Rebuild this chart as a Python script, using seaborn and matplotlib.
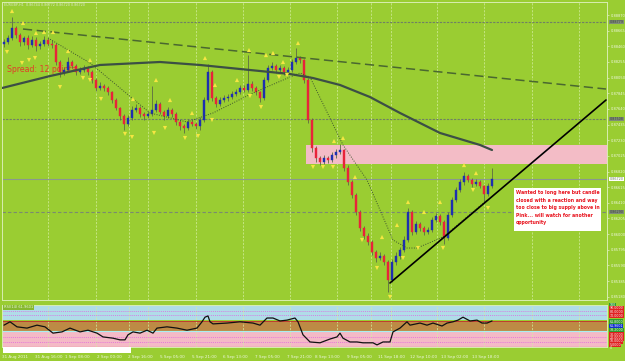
import matplotlib
matplotlib.use('Agg')
import matplotlib.pyplot as plt
from matplotlib.patches import Rectangle
import numpy as np
import pandas as pd
import seaborn as sns

sns.set_theme(style='white')
plt.rcParams['font.family'] = ['DejaVu Sans']

# ---------------- data (EURGBP H1) ----------------
first_open = 0.88491
closes = [0.88517, 0.88569, 0.88700, 0.88608, 0.88517, 0.88569, 0.88477, 0.88543, 0.88464, 0.88491,
          0.88543, 0.88491, 0.88477, 0.88255, 0.88124, 0.88150, 0.88255, 0.88202, 0.88124, 0.88150,
          0.88176, 0.88124, 0.88019, 0.87914, 0.87940, 0.87914, 0.87862, 0.87757, 0.87652, 0.87547,
          0.87443, 0.87521, 0.87626, 0.87652, 0.87574, 0.87547, 0.87574, 0.87626, 0.87705, 0.87600,
          0.87547, 0.87626, 0.87574, 0.87469, 0.87416, 0.87390, 0.87469, 0.87443, 0.87416, 0.87495,
          0.87757, 0.88124, 0.87783, 0.87705, 0.87757, 0.87783, 0.87796, 0.87836, 0.87862, 0.87914,
          0.87888, 0.87967, 0.87914, 0.87862, 0.87783, 0.88019, 0.88176, 0.88202, 0.88150, 0.88176,
          0.88124, 0.88150, 0.88255, 0.88307, 0.88281, 0.88019, 0.87495, 0.87128, 0.86997, 0.86945,
          0.86997, 0.86971, 0.87036, 0.87076, 0.87102, 0.86866, 0.86683, 0.86512, 0.86290, 0.86080,
          0.85975, 0.85897, 0.85766, 0.85687, 0.85713, 0.85635, 0.85399, 0.85635, 0.85713, 0.85792,
          0.85923, 0.86290, 0.86028, 0.86133, 0.86080, 0.86028, 0.86054, 0.86185, 0.86237, 0.86159,
          0.85949, 0.86250, 0.86447, 0.86578, 0.86683, 0.86761, 0.86709, 0.86657, 0.86683, 0.86630,
          0.86526, 0.86630, 0.86720]
highs = [0.88560, 0.88610, 0.88844, 0.88730, 0.88640, 0.88600, 0.88610, 0.88590, 0.88580, 0.88530,
         0.88600, 0.88570, 0.88540, 0.88500, 0.88280, 0.88190, 0.88320, 0.88280, 0.88230, 0.88190,
         0.88220, 0.88200, 0.88150, 0.88040, 0.87990, 0.87970, 0.87940, 0.87880, 0.87780, 0.87670,
         0.87570, 0.87560, 0.87680, 0.87700, 0.87680, 0.87600, 0.87610, 0.87940, 0.87760, 0.87730,
         0.87620, 0.87670, 0.87650, 0.87600, 0.87500, 0.87440, 0.87510, 0.87500, 0.87470, 0.87530,
         0.87800, 0.88229, 0.88150, 0.87810, 0.87800, 0.87820, 0.87830, 0.87870, 0.87900, 0.87950,
         0.87950, 0.88346, 0.88000, 0.87940, 0.87880, 0.88060, 0.88220, 0.88250, 0.88230, 0.88210,
         0.88200, 0.88190, 0.88290, 0.88438, 0.88340, 0.88300, 0.88040, 0.87520, 0.87150, 0.87020,
         0.87040, 0.87030, 0.87080, 0.87120, 0.87181, 0.87120, 0.86900, 0.86710, 0.86540, 0.86320,
         0.86110, 0.86010, 0.85920, 0.85790, 0.85760, 0.85740, 0.85660, 0.85680, 0.85760, 0.85830,
         0.85970, 0.86342, 0.86320, 0.86170, 0.86160, 0.86110, 0.86090, 0.86220, 0.86280, 0.86260,
         0.86180, 0.86290, 0.86490, 0.86620, 0.86720, 0.86814, 0.86790, 0.86740, 0.86720, 0.86710,
         0.86650, 0.86670, 0.86866]
lows = [0.88450, 0.88490, 0.88540, 0.88570, 0.88470, 0.88480, 0.88430, 0.88450, 0.88400, 0.88430,
        0.88470, 0.88460, 0.88440, 0.88220, 0.88060, 0.88090, 0.88120, 0.88170, 0.88090, 0.88100,
        0.88120, 0.88080, 0.87980, 0.87870, 0.87890, 0.87880, 0.87820, 0.87720, 0.87620, 0.87500,
        0.87364, 0.87410, 0.87500, 0.87600, 0.87540, 0.87500, 0.87520, 0.87550, 0.87600, 0.87570,
        0.87500, 0.87520, 0.87540, 0.87430, 0.87370, 0.87325, 0.87360, 0.87410, 0.87380, 0.87364,
        0.87470, 0.87730, 0.87750, 0.87670, 0.87680, 0.87730, 0.87750, 0.87770, 0.87810, 0.87830,
        0.87860, 0.87860, 0.87880, 0.87820, 0.87731, 0.87760, 0.87990, 0.88150, 0.88110, 0.88120,
        0.88090, 0.88100, 0.88120, 0.88230, 0.88240, 0.87980, 0.87450, 0.87080, 0.86950, 0.86900,
        0.86920, 0.86930, 0.86940, 0.87000, 0.87050, 0.86830, 0.86640, 0.86470, 0.86250, 0.86040,
        0.85930, 0.85860, 0.85720, 0.85640, 0.85660, 0.85590, 0.85242, 0.85370, 0.85600, 0.85680,
        0.85760, 0.85900, 0.85990, 0.86000, 0.86040, 0.85990, 0.86000, 0.86030, 0.86160, 0.86120,
        0.85871, 0.85920, 0.86220, 0.86420, 0.86550, 0.86650, 0.86680, 0.86620, 0.86630, 0.86600,
        0.86421, 0.86500, 0.86600]

# slow moving average (solid) and fast one (dotted), sampled at bar indices
ma_idx = [-0.5, 11.5, 24, 39, 49, 61.5, 71.5, 77.25, 84, 91.5, 99, 109, 119, 122]
ma_val = [0.87914, 0.88071, 0.88216, 0.88255, 0.88216, 0.88150, 0.88098, 0.88045,
          0.87954, 0.87796, 0.87587, 0.87325, 0.87168, 0.87102]
fast_idx = [11, 21.5, 36.5, 45.75, 52.25, 62.25, 71.5, 74, 76.5, 84.75, 90.75, 97.25,
            100.75, 103.25, 109.75, 120.75]
fast_val = [0.88569, 0.88242, 0.87587, 0.87469, 0.87587, 0.87849, 0.88058, 0.88111,
            0.88058, 0.87168, 0.86709, 0.85923, 0.85818, 0.85818, 0.85962, 0.86447]

# drawn objects
down_trend_idx = [4.75, 150.5]
down_trend_val = [0.88687, 0.87901]
up_trend_idx = [96.5, 150.5]
up_trend_val = [0.85360, 0.87757]
supply_start = 75.5
supply_low, supply_high = 0.86919, 0.87168
dotted_levels = [0.88779, 0.87508]
dashed_level = 0.86290
bid = 0.86720

# fractals
frac_up_idx = [2, 4.75, 8, 10, 12.25, 16, 21.5, 32.25, 38, 41.5, 47, 50.25, 52.75, 58.25,
               61.25, 65.5, 67.25, 69.75, 73.5, 82.5, 84.75, 87.75, 94.5, 98.25, 101, 105,
               109, 115, 118]
frac_up_val = [0.88923, 0.88766, 0.88635, 0.88648, 0.88648, 0.88399, 0.88281, 0.87770,
               0.88019, 0.87757, 0.87587, 0.88307, 0.87954, 0.88019, 0.88412, 0.88346,
               0.88373, 0.88255, 0.88504, 0.87220, 0.87259, 0.86748, 0.85962, 0.86120,
               0.86421, 0.86290, 0.86421, 0.86905, 0.86800]
frac_dn_idx = [0.75, 4.5, 6.25, 7.75, 14, 19.75, 21.5, 24.25, 30.25, 32, 37.5, 40.25, 45.25,
               48.5, 52, 61.5, 64.25, 68.75, 70.75, 77.25, 79.75, 82.25, 89.5, 93.25, 96.5,
               99.75, 103.5, 109.75, 117.25, 121]
frac_dn_val = [0.88386, 0.88242, 0.88281, 0.88307, 0.87927, 0.88045, 0.88019, 0.87770,
               0.87312, 0.87272, 0.87325, 0.87390, 0.87259, 0.87285, 0.87495, 0.87809,
               0.87665, 0.88058, 0.88085, 0.86879, 0.86879, 0.86879, 0.85923, 0.85556,
               0.85177, 0.85687, 0.85818, 0.85818, 0.86578, 0.86342]

# RSI(14)
rsi_idx = [0, 1.5, 3.25, 5.75, 8.25, 10.25, 12.25, 14.5, 16.5, 19, 21, 23.25, 24.75, 27.25,
           29, 30.25, 31, 32.25, 34, 35.75, 37.25, 38.25, 40.75, 43.25, 45.75, 48.25, 49.5,
           50.25, 51, 51.5, 52.25, 55.75, 59, 62.25, 64, 65.75, 67.25, 69, 70.75, 72.75,
           73.5, 74.75, 76.5, 79, 81.5, 83.25, 84, 84.75, 86.5, 88.25, 89.75, 92.25, 93.25,
           94.75, 96.5, 97.25, 99, 100.75, 101.5, 104, 105.75, 107.25, 109.5, 110.75, 112.25,
           113.5, 114.75, 116.5, 118.25, 119.5, 120.75, 122]
rsi_val = [52, 60, 48, 45, 52, 48, 33, 36, 45, 36, 40, 33, 24, 21, 17, 17, 29, 36, 33, 40,
           33, 45, 48, 45, 40, 45, 60, 71, 74, 60, 55, 57, 60, 57, 52, 69, 69, 62, 64, 69,
           60, 29, 12, 10, 19, 24, 33, 21, 12, 12, 10, 10, 5, 12, 12, 36, 45, 60, 52, 57,
           52, 57, 50, 57, 60, 64, 71, 62, 64, 57, 57, 62]
rsi_levels_dotted = [86, 76, 24, 12]

# axis labels
price_ticks = [0.88870, 0.88665, 0.88460, 0.88255, 0.88050, 0.87845, 0.87640, 0.87435,
               0.87230, 0.87025, 0.86820, 0.86615, 0.86410, 0.86205, 0.86000, 0.85795,
               0.85590, 0.85385, 0.85180]
time_pos = [-0.5, 7.75, 15.25, 23.25, 31, 39, 47, 54.75, 62.75, 70.75, 77.75, 85.75,
            93.5, 101.5, 109.25, 117]
time_labels = ['31 Aug 2011', '31 Aug 16:00', '1 Sep 08:00', '2 Sep 00:00', '2 Sep 16:00',
               '5 Sep 05:00', '5 Sep 21:00', '6 Sep 13:00', '7 Sep 05:00', '7 Sep 21:00',
               '8 Sep 13:00', '9 Sep 05:00', '11 Sep 18:00', '12 Sep 10:00',
               '13 Sep 02:00', '13 Sep 18:00']
rsi_box_levels = [100, 92, 83, 74, 60, 50, 40, 29, 21, 14, 5]
rsi_box_labels = ['100', '90.0000', '80.0000', '70.0000', '61.8000', '61.9601', '38.2000',
                  '30.0000', '20.0000', '10.0000', '5.0000']
rsi_box_colors = ['#2e9a2e', '#e02020', '#e02020', '#e02020', '#2e9a2e', '#1030d0',
                  '#2e9a2e', '#e02020', '#e02020', '#e02020', '#e02020']

# ---------------- styling ----------------
GREEN = '#9acd32'
BULL = '#1d2fb0'
BEAR = '#e8233a'
WICK = '#5c6b45'
PALE = '#eef6de'
GRID_X = [11, 23, 31.25, 36, 48, 59.75, 71.5, 83.25, 91.75, 96.75, 108.25, 120, 132, 143.75]
XMAX = 150.75

bars = pd.DataFrame({'open': [first_open] + closes[:-1], 'high': highs,
                     'low': lows, 'close': closes})
bars['idx'] = np.arange(len(bars))
bars['up'] = bars['close'] >= bars['open']

W, H = 625, 361
fig = plt.figure(figsize=(W / 100, H / 100), dpi=100, facecolor=GREEN)


def box(x0, y0, x1, y1):
    return [x0 / W, 1 - y1 / H, (x1 - x0) / W, (y1 - y0) / H]


ax = fig.add_axes(box(2, 2, 607, 300))
rsi_ax = fig.add_axes(box(2, 305, 607, 347))


def ax_px(x, y):
    # pixel position in the screenshot -> main axes fraction
    return (x - 2) / 605, (300 - y) / 298


for a in (ax, rsi_ax):
    a.set_facecolor(GREEN)
    a.set_xlim(-0.5, XMAX)
    for s in a.spines.values():
        s.set_color('#d8eeb0')
        s.set_linewidth(0.7)
    for g in GRID_X:
        a.axvline(g, color='#d4eea0', lw=0.5, ls=(0, (3, 2)), zorder=1)

ax.set_ylim(0.85137, 0.89041)

# horizontal levels
for lv in dotted_levels:
    ax.axhline(lv, color='#6f7f66', lw=0.8, ls=(0, (2, 1.2)), zorder=1.5)
ax.axhline(dashed_level, color='#7a8a70', lw=0.8, ls=(0, (3, 2)), zorder=1.5)
ax.axhline(bid, color='#8a9890', lw=0.8, zorder=1.5)

# supply zone
ax.fill_between([supply_start, XMAX], supply_low, supply_high, color='#f3bcc6',
                lw=0, zorder=2)

sx, sy = ax_px(7, 70)
ax.text(sx, sy, 'Spread: 12 points', transform=ax.transAxes, color='#e23c28',
        fontsize=5.6, va='center', ha='left', zorder=2.5)

# candles
colors = np.where(bars['up'], BULL, BEAR)
ax.vlines(bars['idx'], bars['low'], bars['high'], colors=WICK, lw=0.6, zorder=3)
body_lo = bars[['open', 'close']].min(axis=1)
body_h = (bars['close'] - bars['open']).abs().clip(lower=0.00004)
ax.bar(bars['idx'], body_h, bottom=body_lo, width=0.7, color=colors,
       edgecolor=colors, lw=0.3, zorder=4)

# moving averages and trend lines
sns.lineplot(x=ma_idx, y=ma_val, ax=ax, color='#3c4f45', lw=1.6, zorder=5)
sns.lineplot(x=fast_idx, y=fast_val, ax=ax, color='#3f5530', lw=0.7,
             linestyle=(0, (1, 1.5)), zorder=5)
sns.lineplot(x=down_trend_idx, y=down_trend_val, ax=ax, color='#4a6830', lw=1.1,
             linestyle=(0, (6, 3)), zorder=5)
sns.lineplot(x=up_trend_idx, y=up_trend_val, ax=ax, color='black', lw=1.2, zorder=5)

# fractals
sns.scatterplot(x=frac_up_idx, y=frac_up_val, ax=ax, marker='^', s=9, color='#f5e642',
                edgecolor='none', zorder=6)
sns.scatterplot(x=frac_dn_idx, y=frac_dn_val, ax=ax, marker='v', s=9, color='#f5e642',
                edgecolor='none', zorder=6)

# price axis on the right
ax.set_xticks([])
ax.yaxis.tick_right()
ax.set_yticks(price_ticks)
ax.set_yticklabels([f'{p:.5f}' for p in price_ticks])
ax.tick_params(axis='y', length=1.5, width=0.5, color='#e0f0c0', labelsize=2.6,
               labelcolor=PALE, pad=1.5)
ax.set_xlabel('')
ax.set_ylabel('')

ytr = ax.get_yaxis_transform()
for lv in dotted_levels + [dashed_level]:
    ax.text(1.004, lv, f'{lv:.5f}', transform=ytr, fontsize=2.4, color='#3a4238',
            va='center', ha='left', zorder=7,
            bbox=dict(boxstyle='square,pad=0.1', fc='#7f8c78', ec='none'))
ax.text(1.004, bid, f'{bid:.5f}', transform=ytr, fontsize=2.4, color='#6f8060',
        va='center', ha='left', zorder=7,
        bbox=dict(boxstyle='square,pad=0.1', fc='white', ec='none'))

# title
ax.text(0.004, 0.995, 'EURGBP,H1  0.86744 0.86772 0.86720 0.86720',
        transform=ax.transAxes, fontsize=2.4, color='#dde8cc', va='top', ha='left')

# comment box
bx, by = ax_px(514, 231)
ax.add_patch(Rectangle((bx, by), 87 / 605, 43 / 298, transform=ax.transAxes,
                       facecolor='white', edgecolor='none', zorder=8))
tx, ty = ax_px(516, 190)
ax.text(tx, ty, 'Wanted to long here but candle\nclosed with a reaction and way\n'
        'too close to big supply above in\nPink... will watch for another\nopportunity',
        transform=ax.transAxes, fontsize=3.3, fontweight='bold', color='#e8141e',
        va='top', ha='left', linespacing=1.65, zorder=9)

# ---------------- RSI panel ----------------
rsi_ax.set_ylim(0, 100)
rsi_ax.axhspan(64, 100, color='#b0dce8', lw=0, zorder=0.5)
rsi_ax.axhspan(38, 62, color='#bd8a45', lw=0, zorder=0.5)
rsi_ax.axhspan(0, 36, color='#f4bac6', lw=0, zorder=0.5)
rsi_ax.axhline(62.5, color='#c0302a', lw=0.6, zorder=1)
rsi_ax.axhline(37, color='#a8f0f0', lw=0.8, zorder=1)
rsi_ax.axhline(0.8, color='#e02020', lw=0.8, zorder=1)
for lv in rsi_levels_dotted:
    rsi_ax.axhline(lv, color='#e060e0', lw=0.5, ls=(0, (1.5, 1.5)), zorder=1)
sns.lineplot(x=rsi_idx, y=rsi_val, ax=rsi_ax, color='#111111', lw=0.9, zorder=3)

rsi_ax.set_yticks([])
rsi_ax.set_ylabel('')
rsi_ax.set_xticks(time_pos)
rsi_ax.set_xticklabels(time_labels, ha='left')
rsi_ax.tick_params(axis='x', length=1.5, width=0.5, color='#e0f0c0', labelsize=3,
                   labelcolor=PALE, pad=4)

rsi_ax.text(0.003, 0.99, 'RSI(14) 61.9601', transform=rsi_ax.transAxes, fontsize=2.6,
            color=PALE, va='top', ha='left', zorder=4,
            bbox=dict(boxstyle='square,pad=0.2', fc='#86b830', ec='none'))

rtr = rsi_ax.get_yaxis_transform()
for lv, lab, c in zip(rsi_box_levels, rsi_box_labels, rsi_box_colors):
    rsi_ax.text(1.004, lv, lab, transform=rtr, fontsize=2.3, color='#f4f4f4',
                va='center', ha='left', clip_on=False,
                bbox=dict(boxstyle='square,pad=0.12', fc=c, ec='none'))
rsi_ax.text(1.004, -3, '0', transform=rtr, fontsize=2.3, color=PALE,
            va='center', ha='left', clip_on=False)

# white strip under the indicator window
fig.add_artist(Rectangle((3 / W, 1 - 353 / H), 128 / W, 6 / H,
                         transform=fig.transFigure, facecolor='white',
                         edgecolor='none', zorder=5))

fig.savefig('out.png', dpi=100, facecolor=GREEN)
